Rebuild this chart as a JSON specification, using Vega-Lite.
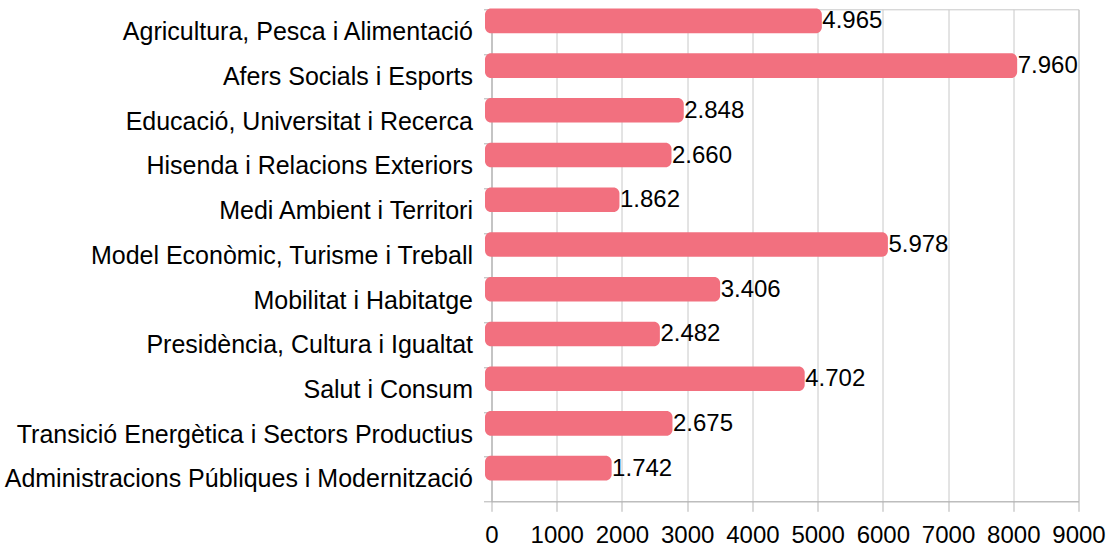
{
  "$schema": "https://vega.github.io/schema/vega-lite/v6.json",
  "width": 587,
  "height": 492,
  "autosize": {"type": "none"},
  "padding": {"left": 491.5, "top": 9.3, "right": 38.5, "bottom": 46.7},
  "config": {
    "locale": {"number": {"decimal": ",", "thousands": ".", "grouping": [3], "currency": ["", " €"]}},
    "view": {"stroke": "#c8c8c8", "strokeWidth": 1},
    "font": "Liberation Sans"
  },
  "data": {
    "values": [
      {"dept": "Agricultura, Pesca i Alimentació", "value": 4965},
      {"dept": "Afers Socials i Esports", "value": 7960},
      {"dept": "Educació, Universitat i Recerca", "value": 2848},
      {"dept": "Hisenda i Relacions Exteriors", "value": 2660},
      {"dept": "Medi Ambient i Territori", "value": 1862},
      {"dept": "Model Econòmic, Turisme i Treball", "value": 5978},
      {"dept": "Mobilitat i Habitatge", "value": 3406},
      {"dept": "Presidència, Cultura i Igualtat", "value": 2482},
      {"dept": "Salut i Consum", "value": 4702},
      {"dept": "Transició Energètica i Sectors Productius", "value": 2675},
      {"dept": "Administracions Públiques i Modernització", "value": 1742}
    ]
  },
  "encoding": {
    "y": {
      "field": "dept",
      "type": "nominal",
      "sort": null,
      "scale": {"paddingInner": 0, "paddingOuter": 0},
      "axis": {
        "title": null,
        "tickBand": "extent",
        "tickSize": 8,
        "labelPadding": 11,
        "labelFontSize": 25,
        "labelColor": "#000000",
        "labelLimit": 0,
        "domainColor": "#b3b3b3",
        "tickColor": "#b3b3b3",
        "grid": false
      }
    },
    "x": {
      "field": "value",
      "type": "quantitative",
      "scale": {"domain": [0, 9000], "nice": false},
      "axis": {
        "title": null,
        "values": [0, 1000, 2000, 3000, 4000, 5000, 6000, 7000, 8000, 9000],
        "format": "d",
        "tickSize": 10,
        "labelPadding": 12,
        "labelFontSize": 24,
        "labelColor": "#000000",
        "domainColor": "#b3b3b3",
        "tickColor": "#b3b3b3",
        "grid": true,
        "gridColor": "#c8c8c8",
        "labelFlush": false
      }
    }
  },
  "layer": [
    {
      "mark": {"type": "bar", "color": "#f2707f", "height": {"band": 0.55}, "yOffset": -10.8, "xOffset": 6.5, "x2Offset": -6.5, "cornerRadius": 6},
      "encoding": {"x2": {"datum": 0}}
    },
    {
      "mark": {"type": "text", "align": "left", "baseline": "middle", "dx": 7, "yOffset": -10.3, "fontSize": 24, "color": "#000000"},
      "encoding": {"text": {"field": "value", "type": "quantitative", "format": ",d"}}
    }
  ]
}
